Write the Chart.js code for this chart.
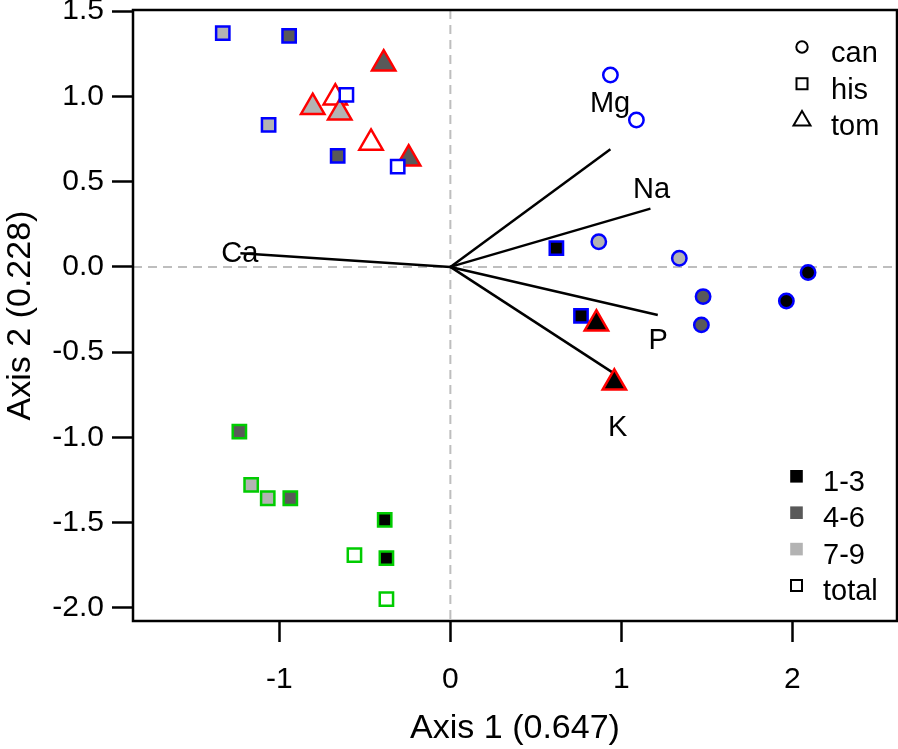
<!DOCTYPE html>
<html>
<head>
<meta charset="utf-8">
<title>Biplot</title>
<script src="https://cdn.jsdelivr.net/npm/chart.js@4.4.0/dist/chart.umd.min.js"></script>
<style>
  html, body { margin: 0; padding: 0; background: #fff; }
  #wrap { width: 898px; height: 749px; }
</style>
</head>
<body>
<div id="wrap"><canvas id="biplot" width="898" height="749"></canvas></div>
<script>
// legend entries
const shapeLabels = ['can', 'his', 'tom'];
const fillLabels = ['1-3', '4-6', '7-9', 'total'];

// sample scores (axis 1, axis 2) and size class of each sample
const canX = [0.936, 1.088, 0.868, 1.339, 1.478, 1.468, 2.092, 1.965];
const canY = [1.126, 0.862, 0.148, 0.051, -0.174, -0.340, -0.033, -0.200];
const canFill = ['total', 'total', '7-9', '7-9', '4-6', '4-6', '1-3', '1-3'];

const hisX = [-1.331, -1.063, -0.943, -0.659, -0.608, -0.308, 0.620, 0.764];
const hisY = [1.371, 0.833, 1.355, 0.651, 1.009, 0.588, 0.110, -0.287];
const hisFill = ['7-9', '7-9', '4-6', '4-6', 'total', 'total', '1-3', '1-3'];

const tomX = [-0.673, -0.464, -0.805, -0.647, -0.390, -0.244, 0.854, 0.959];
const tomY = [0.993, 0.727, 0.937, 0.905, 1.192, 0.635, -0.333, -0.680];
const tomFill = ['total', 'total', '7-9', '7-9', '4-6', '4-6', '1-3', '1-3'];

const hisGreenX = [-1.234, -0.936, -1.165, -1.068, -0.384, -0.374, -0.561, -0.374];
const hisGreenY = [-0.966, -1.357, -1.279, -1.357, -1.484, -1.708, -1.691, -1.949];
const hisGreenFill = ['4-6', '4-6', '7-9', '7-9', '1-3', '1-3', 'total', 'total'];

// variable vectors and where their names sit
const varNames = ['Mg', 'Na', 'Ca', 'P', 'K'];
const varX = [0.936, 1.170, -1.228, 1.213, 0.950];
const varY = [0.690, 0.342, 0.080, -0.282, -0.620];
const varLabelX = [0.934, 1.177, -1.231, 1.215, 0.978];
const varLabelY = [0.967, 0.463, 0.087, -0.421, -0.933];

const xTicks = [-1, 0, 1, 2];
const yTicks = [-2, -1.5, -1, -0.5, 0, 0.5, 1, 1.5];

const FONT = "'Liberation Sans', Arial, sans-serif";
const fillColor = { '1-3': '#000000', '4-6': '#595959', '7-9': '#b3b3b3', 'total': '#ffffff' };

function pts(xs, ys, keep) {
  const out = [];
  xs.forEach((x, i) => { if (!keep || keep(i)) out.push({ x: x, y: ys[i] }); });
  return out;
}
function fills(f, keep) {
  return f.filter((v, i) => !keep || keep(i)).map(v => fillColor[v]);
}

const isTotal = i => hisFill[i] === 'total';
const notTotal = i => hisFill[i] !== 'total';

const datasets = [
  { label: 'his total', data: pts(hisX, hisY, isTotal), pointStyle: 'rect', pointRadius: 9.4,
    pointBackgroundColor: fills(hisFill, isTotal), pointBorderColor: '#0000ff', pointBorderWidth: 2.5, order: 0 },
  { label: 'tom', data: pts(tomX, tomY), pointStyle: 'triangle', pointRadius: 13.5,
    pointBackgroundColor: fills(tomFill), pointBorderColor: '#ff0000', pointBorderWidth: 2.5, order: 1 },
  { label: 'his', data: pts(hisX, hisY, notTotal), pointStyle: 'rect', pointRadius: 9.4,
    pointBackgroundColor: fills(hisFill, notTotal), pointBorderColor: '#0000ff', pointBorderWidth: 2.5, order: 2 },
  { label: 'can', data: pts(canX, canY), pointStyle: 'circle', pointRadius: 7.2,
    pointBackgroundColor: fills(canFill), pointBorderColor: '#0000ff', pointBorderWidth: 2.5, order: 3 },
  { label: 'his green', data: pts(hisGreenX, hisGreenY), pointStyle: 'rect', pointRadius: 9.4,
    pointBackgroundColor: fills(hisGreenFill), pointBorderColor: '#00cc00', pointBorderWidth: 2.5, order: 4 }
];
varNames.forEach((n, i) => {
  datasets.push({
    label: n, data: [{ x: 0, y: 0 }, { x: varX[i], y: varY[i] }],
    showLine: true, borderColor: '#000', borderWidth: 2.5, pointRadius: 0, order: 5
  });
});

const overlay = {
  id: 'overlay',
  beforeDatasetsDraw(chart) {
    const { ctx, chartArea: a, scales: { x, y } } = chart;
    const x0 = x.getPixelForValue(0), y0 = y.getPixelForValue(0);
    ctx.save();
    ctx.strokeStyle = '#bebebe';
    ctx.lineWidth = 2;
    ctx.setLineDash([9, 6]);
    ctx.beginPath();
    ctx.moveTo(a.left, y0); ctx.lineTo(a.right, y0);
    ctx.moveTo(x0, a.top); ctx.lineTo(x0, a.bottom);
    ctx.stroke();
    ctx.restore();
  },
  afterDatasetsDraw(chart) {
    const { ctx, chartArea: a, scales: { x, y } } = chart;
    ctx.save();
    // variable names
    ctx.fillStyle = '#000';
    ctx.font = '29px ' + FONT;
    ctx.textAlign = 'center';
    ctx.textBaseline = 'alphabetic';
    varNames.forEach((n, i) => {
      ctx.fillText(n, x.getPixelForValue(varLabelX[i]), y.getPixelForValue(varLabelY[i]) + 0.358 * 29);
    });

    // frame
    ctx.strokeStyle = '#000';
    ctx.lineWidth = 2.5;
    ctx.strokeRect(a.left, a.top, a.right - a.left, a.bottom - a.top);

    // shape legend
    ctx.lineWidth = 2;
    ctx.textAlign = 'left';
    const sx = 802;
    shapeLabels.forEach((lab, i) => {
      const cy = 47 + i * 36.7;
      ctx.beginPath();
      if (i === 0) {
        ctx.arc(sx, cy, 5.7, 0, Math.PI * 2);
      } else if (i === 1) {
        ctx.rect(sx - 5.5, cy - 5.5, 11, 11);
      } else {
        ctx.moveTo(sx, cy - 9.5);
        ctx.lineTo(sx + 8.5, cy + 5);
        ctx.lineTo(sx - 8.5, cy + 5);
        ctx.closePath();
      }
      ctx.stroke();
      ctx.fillText(lab, 831, cy + 15);
    });

    // size class legend
    const fx = 796.5;
    fillLabels.forEach((lab, i) => {
      const cy = 476.3 + i * 36.4;
      if (lab === 'total') {
        ctx.strokeRect(fx - 5.5, cy - 5.5, 11, 11);
      } else {
        ctx.fillStyle = fillColor[lab];
        ctx.fillRect(fx - 6.3, cy - 6.3, 12.6, 12.6);
      }
      ctx.fillStyle = '#000';
      ctx.fillText(lab, 823, cy + 14.4);
    });
    ctx.restore();
  }
};

new Chart(document.getElementById('biplot'), {
  type: 'scatter',
  data: { datasets: datasets },
  options: {
    responsive: false,
    animation: false,
    events: [],
    layout: { autoPadding: false, padding: { top: 10, right: 1, left: 0, bottom: 0 } },
    plugins: { legend: { display: false }, tooltip: { enabled: false } },
    scales: {
      x: {
        type: 'linear', min: -1.856, max: 2.612,
        afterBuildTicks: s => { s.ticks = xTicks.map(v => ({ value: v })); },
        afterFit: s => { s.height = 128; s.paddingLeft = 0; s.paddingRight = 0; },
        border: { display: false },
        grid: { drawOnChartArea: false, drawTicks: true, tickLength: 21, tickWidth: 2.5, tickColor: '#000' },
        ticks: { color: '#000', padding: 20, font: { family: FONT, size: 30 }, callback: v => String(v) },
        title: { display: true, text: 'Axis 1 (0.647)', color: '#000', padding: { top: 0, bottom: 0 },
                 font: { family: FONT, size: 34 } }
      },
      y: {
        type: 'linear', min: -2.077, max: 1.507,
        afterBuildTicks: s => { s.ticks = yTicks.map(v => ({ value: v })); },
        afterFit: s => { s.width = 133; s.paddingTop = 0; s.paddingBottom = 0; },
        border: { display: false },
        grid: { drawOnChartArea: false, drawTicks: true, tickLength: 21, tickWidth: 2.5, tickColor: '#000' },
        ticks: { color: '#000', padding: 8, font: { family: FONT, size: 30 }, callback: v => v.toFixed(1) },
        title: { display: true, text: 'Axis 2 (0.228)', color: '#000', padding: { top: 0, bottom: 0 },
                 font: { family: FONT, size: 34 } }
      }
    }
  },
  plugins: [overlay]
});
</script>
</body>
</html>
